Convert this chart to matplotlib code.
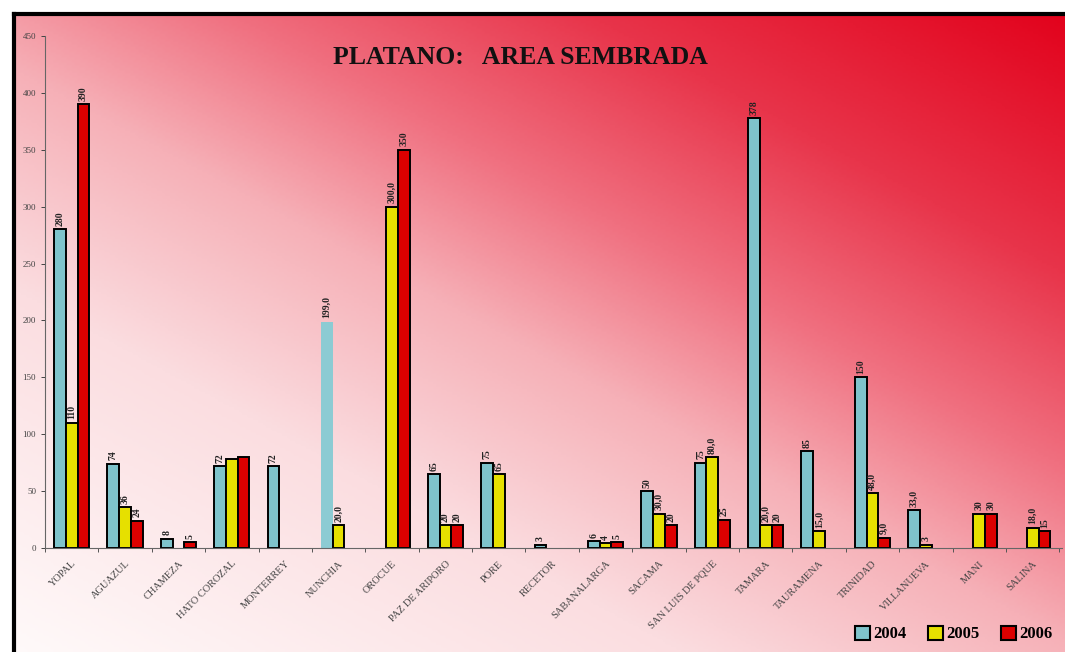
import numpy as np
import matplotlib
matplotlib.use("Agg")
import matplotlib.pyplot as plt
from matplotlib.colors import LinearSegmentedColormap
from matplotlib.patches import Patch

municipios = ["YOPAL", "AGUAZUL", "CHAMEZA", "HATO COROZAL", "MONTERREY", "NUNCHIA",
              "OROCUE", "PAZ DE ARIPORO", "PORE", "RECETOR", "SABANALARGA", "SACAMA",
              "SAN LUIS DE PQUE", "TAMARA", "TAURAMENA", "TRINIDAD", "VILLANUEVA",
              "MANI", "SALINA"]
nan = np.nan
area_2004 = [280, 74, 8, 72, 72, 199, nan, 65, 75, 3, 6, 50, 75, 378, 85, 150, 33, nan, nan]
area_2005 = [110, 36, nan, 78, nan, 20, 300, 20, 65, nan, 4, 30, 80, 20, 15, 48, 3, 30, 18]
area_2006 = [390, 24, 5, 80, nan, nan, 350, 20, nan, nan, 5, 20, 25, 20, nan, 9, nan, 30, 15]
etiq_2004 = ["280", "74", "8", "72", "72", "199,0", "", "65", "75", "3", "6", "50", "75",
             "378", "85", "150", "33,0", "", ""]
etiq_2005 = ["110", "36", "", "", "", "20,0", "300,0", "20", "65", "", "4", "30,0", "80,0",
             "20,0", "15,0", "48,0", "3", "30", "18,0"]
etiq_2006 = ["390", "24", "5", "", "", "", "350", "20", "", "", "5", "20", "25", "20", "",
             "9,0", "", "30", "15"]
anios = ["2004", "2005", "2006"]
colores = ["#7fc3cb", "#e6e000", "#dc0000"]

plt.rcParams['font.family'] = ['Liberation Serif', 'DejaVu Serif']

W, H = 1065, 652
fig = plt.figure(figsize=(W / 100, H / 100), dpi=100)

# fondo degradado (blanco abajo-izquierda -> rojo arriba-derecha)
bg = fig.add_axes([0, 0, 1, 1], zorder=0)
xx, yy = np.meshgrid(np.linspace(0, 1, 400), np.linspace(0, 1, 250))
s = 0.47 * xx + 0.53 * yy
cmap_bg = LinearSegmentedColormap.from_list(
    "fondo", [(0.0, "#fffafa"), (0.3, "#fbdde0"), (0.48, "#f6b0b7"),
              (0.62, "#f07080"), (0.78, "#e8344a"), (1.0, "#e2001a")])
bg.imshow(s, cmap=cmap_bg, origin="lower", extent=[0, 1, 0, 1], aspect="auto", vmin=0, vmax=1)
# margen blanco y marco negro
bg.fill_between([0, 1], 1 - 13 / H, 1, color="white")
bg.fill_between([0, 13 / W], 0, 1, color="white")
bg.plot([14 / W, 1], [1 - 14 / H, 1 - 14 / H], color="black", lw=3)
bg.plot([14 / W, 14 / W], [0, 1 - 14 / H], color="black", lw=3)
bg.set_xlim(0, 1)
bg.set_ylim(0, 1)
bg.axis("off")

ax = fig.add_axes([45 / W, (H - 548) / H, (1062 - 45) / W, (548 - 36) / H], zorder=1)
ax.patch.set_alpha(0)

x = np.arange(len(municipios))
ancho = 0.22
series = [area_2004, area_2005, area_2006]
etiquetas = [etiq_2004, etiq_2005, etiq_2006]
for i, (vals, etqs) in enumerate(zip(series, etiquetas)):
    pos = x + (i - 1) * ancho
    barras = ax.bar(pos, vals, width=ancho, color=colores[i], edgecolor="black", linewidth=1.4)
    for p, v, t in zip(pos, vals, etqs):
        if t and not np.isnan(v):
            ax.text(p, v + 3, t, rotation=90, ha="center", va="bottom",
                    fontsize=7, fontweight="bold", color="#222222")
    if i == 0:
        # la barra de NUNCHIA 2004 aparece sin borde
        barras[municipios.index("NUNCHIA")].set_linewidth(0)
        barras[municipios.index("NUNCHIA")].set_facecolor("#8ccbd3")

ax.set_xlim(-0.5, len(municipios) - 0.45)
ax.set_ylim(0, 450)
ax.set_yticks(np.arange(0, 451, 50))
ax.tick_params(axis="y", labelsize=6.5, colors="#444444", length=3, width=0.7)
ax.set_xticks(x)
ax.set_xticklabels(municipios, rotation=45, ha="right", va="top", rotation_mode="anchor",
                   fontsize=7.5, color="#444444")
ax.tick_params(axis="x", length=0, pad=8)
ax.set_xticks(np.arange(-0.5, len(municipios), 1), minor=True)
ax.tick_params(axis="x", which="minor", length=3, width=0.7, color="#555555")
for lado in ["top", "right"]:
    ax.spines[lado].set_visible(False)
for lado in ["left", "bottom"]:
    ax.spines[lado].set_color("#666666")
    ax.spines[lado].set_linewidth(0.8)

fig.text(520 / W, 1 - 57 / H, "PLATANO:   AREA SEMBRADA", ha="center", va="center",
         fontsize=18.5, fontweight="bold", color="#111111")

handles = [Patch(facecolor=c, edgecolor="black", linewidth=1.5) for c in colores]
fig.legend(handles, anios, loc="center left", bbox_to_anchor=(855 / W, 1 - 634 / H),
           ncol=3, frameon=False, handlelength=0.9, handleheight=0.9, handletextpad=0.2,
           columnspacing=1.3, borderaxespad=0, borderpad=0,
           prop={"size": 12, "weight": "bold"})

fig.savefig("out.png", dpi=100)
